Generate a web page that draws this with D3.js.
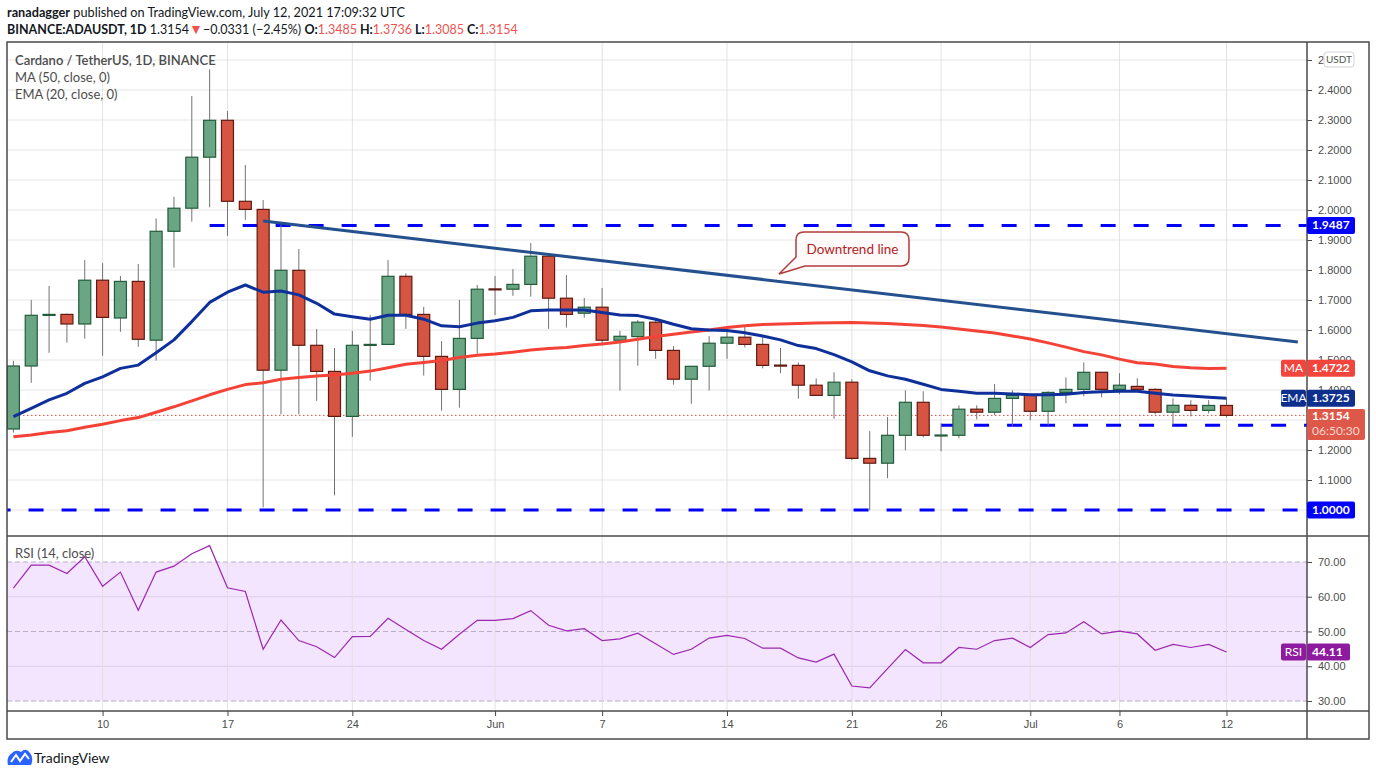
<!DOCTYPE html>
<html>
<head>
<meta charset="utf-8">
<script src="https://cdn.jsdelivr.net/npm/d3@7"></script>
<style>
  body { margin: 0; background: #fff; }
  text { font-family: Lato, "Noto Sans", sans-serif; }
  .axis text { font-family: "Liberation Sans", Arial, sans-serif; font-size: 11px; fill: #4d4d4d; }
</style>
</head>
<body>
<svg id="chart" width="1376" height="776"></svg>
<script>
// daily candles, ADA/USDT, Binance
var firstDay = '2021-05-05';
var lastDay = '2021-07-12';

var open = [1.270, 1.480, 1.649, 1.652, 1.620, 1.766, 1.640, 1.762, 1.566, 1.929,
  2.006, 2.176, 2.299, 2.029, 2.002, 1.466, 1.799, 1.549, 1.462, 1.312,
  1.549, 1.552, 1.779, 1.652, 1.512, 1.402, 1.572, 1.737, 1.736, 1.752,
  1.846, 1.706, 1.656, 1.676, 1.566, 1.578, 1.626, 1.532, 1.436, 1.479,
  1.556, 1.576, 1.552, 1.483, 1.482, 1.416, 1.382, 1.426, 1.172, 1.156,
  1.249, 1.359, 1.248, 1.249, 1.336, 1.326, 1.372, 1.382, 1.329, 1.392,
  1.402, 1.459, 1.402, 1.412, 1.402, 1.326, 1.349, 1.332, 1.3485];
var high = [1.497, 1.700, 1.747, 1.655, 1.833, 1.823, 1.780, 1.820, 1.972, 2.044,
  2.380, 2.469, 2.330, 2.150, 2.033, 1.950, 1.870, 1.603, 1.540, 1.597,
  1.650, 1.833, 1.789, 1.677, 1.563, 1.700, 1.750, 1.780, 1.803, 1.890,
  1.846, 1.783, 1.707, 1.740, 1.597, 1.633, 1.637, 1.546, 1.479, 1.580,
  1.596, 1.612, 1.576, 1.540, 1.492, 1.439, 1.459, 1.436, 1.263, 1.310,
  1.399, 1.396, 1.289, 1.349, 1.349, 1.420, 1.399, 1.383, 1.396, 1.442,
  1.492, 1.459, 1.456, 1.439, 1.406, 1.372, 1.366, 1.366, 1.3736];
var low = [1.258, 1.424, 1.524, 1.558, 1.571, 1.514, 1.594, 1.544, 1.498, 1.808,
  1.961, 2.009, 1.914, 1.967, 1.009, 1.319, 1.319, 1.364, 1.049, 1.244,
  1.431, 1.551, 1.604, 1.448, 1.331, 1.341, 1.521, 1.650, 1.714, 1.711,
  1.604, 1.608, 1.641, 1.549, 1.398, 1.481, 1.504, 1.418, 1.354, 1.398,
  1.504, 1.542, 1.472, 1.456, 1.371, 1.382, 1.304, 1.166, 0.999, 1.106,
  1.199, 1.242, 1.196, 1.239, 1.302, 1.316, 1.279, 1.299, 1.282, 1.356,
  1.379, 1.376, 1.386, 1.402, 1.319, 1.282, 1.312, 1.322, 1.3085];
var close = [1.480, 1.649, 1.652, 1.620, 1.766, 1.642, 1.762, 1.569, 1.929, 2.006,
  2.176, 2.299, 2.029, 2.002, 1.466, 1.799, 1.549, 1.462, 1.312, 1.549,
  1.552, 1.779, 1.652, 1.512, 1.402, 1.572, 1.736, 1.735, 1.752, 1.846,
  1.706, 1.652, 1.676, 1.566, 1.579, 1.626, 1.532, 1.436, 1.479, 1.556,
  1.576, 1.552, 1.482, 1.481, 1.416, 1.382, 1.426, 1.172, 1.156, 1.249,
  1.359, 1.249, 1.250, 1.336, 1.326, 1.372, 1.382, 1.329, 1.392, 1.402,
  1.459, 1.402, 1.416, 1.402, 1.326, 1.349, 1.332, 1.3485, 1.3154];

var ema20 = [1.311, 1.339, 1.367, 1.389, 1.422, 1.444, 1.472, 1.483, 1.524, 1.567,
  1.628, 1.692, 1.726, 1.750, 1.726, 1.730, 1.717, 1.689, 1.653, 1.644,
  1.636, 1.649, 1.649, 1.636, 1.614, 1.611, 1.623, 1.631, 1.642, 1.664,
  1.667, 1.667, 1.667, 1.658, 1.650, 1.648, 1.636, 1.619, 1.604, 1.600,
  1.598, 1.591, 1.580, 1.567, 1.548, 1.538, 1.518, 1.494, 1.464, 1.447,
  1.436, 1.419, 1.402, 1.396, 1.389, 1.389, 1.387, 1.384, 1.384, 1.386,
  1.392, 1.394, 1.396, 1.396, 1.389, 1.383, 1.380, 1.376, 1.3725];
var ma50 = [1.244, 1.250, 1.258, 1.264, 1.276, 1.286, 1.298, 1.308, 1.326, 1.344,
  1.364, 1.384, 1.402, 1.418, 1.424, 1.436, 1.442, 1.447, 1.450, 1.456,
  1.463, 1.474, 1.486, 1.492, 1.498, 1.508, 1.516, 1.520, 1.526, 1.533,
  1.538, 1.542, 1.548, 1.553, 1.560, 1.569, 1.578, 1.586, 1.593, 1.600,
  1.608, 1.614, 1.618, 1.620, 1.622, 1.623, 1.624, 1.625, 1.623, 1.622,
  1.618, 1.615, 1.610, 1.603, 1.597, 1.590, 1.580, 1.570, 1.557, 1.543,
  1.528, 1.517, 1.503, 1.491, 1.487, 1.478, 1.474, 1.472, 1.4722];
var rsi14 = [62.5, 69.1, 69.1, 66.7, 71.5, 63.0, 67.1, 56.1, 67.1, 68.8,
  72.4, 74.7, 62.6, 61.5, 44.9, 53.3, 47.4, 45.6, 42.5, 48.5,
  48.6, 53.8, 50.6, 47.4, 44.9, 49.2, 53.2, 53.2, 53.7, 56.0,
  51.8, 50.2, 50.8, 47.4, 47.9, 49.5, 46.5, 43.4, 44.9, 48.1,
  48.9, 48.0, 45.2, 45.2, 42.4, 41.2, 43.5, 34.3, 33.8, 39.3,
  44.8, 41.0, 41.0, 45.4, 44.9, 47.4, 48.1, 45.4, 49.1, 49.6,
  52.8, 49.3, 50.1, 49.3, 44.6, 46.3, 45.4, 46.3, 44.11];

// drawn levels: price and the day each ray starts
var levelPrices = [1.9487, 1.2825, 1.0000];
var levelStarts = ['2021-05-16', '2021-06-26', '2021-05-04'];
var trendDays = ['2021-05-19', '2021-07-16'];
var trendPrices = [1.963, 1.560];

var priceTicks = [1.0, 1.1, 1.2, 1.3, 1.4, 1.5, 1.6, 1.7, 1.8, 1.9, 2.0, 2.1, 2.2, 2.3, 2.4, 2.5];
var rsiTicks = [30, 40, 50, 60, 70];
var dateTicks = ['2021-05-10', '2021-05-17', '2021-05-24', '2021-06-01', '2021-06-07', '2021-06-14',
  '2021-06-21', '2021-06-26', '2021-07-01', '2021-07-06', '2021-07-12'];
var dateTickLabels = ['10', '17', '24', 'Jun', '7', '14', '21', '26', 'Jul', '6', '12'];

(function (d3) {
  'use strict';
  var svg = d3.select('#chart');
  var parse = d3.timeParse('%Y-%m-%d');
  var days = d3.timeDay.range(parse(firstDay), d3.timeDay.offset(parse(lastDay), 1));
  var bars = days.map(function (d, i) {
    return {date: d, o: open[i], h: high[i], l: low[i], c: close[i]};
  });

  var left = 7, right = 1307, top = 42, mid = 536, bottom = 711, base = 739, outer = 1369;
  var x = d3.scaleTime().domain([parse(firstDay), parse(lastDay)]).range([13.4, 1226.5]);
  var y = d3.scaleLinear().domain([1, 2.4]).range([510, 90]);
  var yR = d3.scaleLinear().domain([30, 70]).range([701, 562]);

  var defs = svg.append('defs');
  defs.append('clipPath').attr('id', 'mainClip').append('rect')
    .attr('x', left).attr('y', top).attr('width', right - left).attr('height', mid - top);
  defs.append('clipPath').attr('id', 'rsiClip').append('rect')
    .attr('x', left).attr('y', mid).attr('width', right - left).attr('height', bottom - mid);

  /** header */
  var h1 = svg.append('text').attr('x', 7).attr('y', 17).attr('font-size', 12.7).attr('fill', '#131722');
  h1.append('tspan').attr('font-weight', 'bold').text('ranadagger');
  h1.append('tspan').text(' published on TradingView.com, July 12, 2021 17:09:32 UTC');

  var n = close.length - 1;
  var change = close[n] - close[n - 1];
  var red = '#ef5350';
  var f4 = d3.format('.4f');
  var h2 = svg.append('text').attr('x', 7).attr('y', 34).attr('font-size', 12.5).attr('fill', '#131722');
  h2.append('tspan').attr('font-weight', 'bold').text('BINANCE:ADAUSDT, 1D');
  h2.append('tspan').text(' ' + f4(close[n]));
  h2.append('tspan').attr('fill', red).attr('font-size', 14).text('\u25BC');
  h2.append('tspan').text('\u2212' + f4(-change) + ' (\u2212' + d3.format('.2f')(-change / close[n - 1] * 100) + '%) ');
  [['O:', open[n]], ['H:', high[n]], ['L:', low[n]], ['C:', close[n]]].forEach(function (p, i) {
    h2.append('tspan').attr('font-weight', 'bold').text((i ? ' ' : '') + p[0]);
    h2.append('tspan').attr('fill', red).text(f4(p[1]));
  });

  /** grid */
  var grid = svg.append('g');
  grid.selectAll('line.h').data(priceTicks).enter().append('line')
    .attr('x1', left).attr('x2', right).attr('y1', y).attr('y2', y)
    .attr('stroke', '#e6e6e6').attr('clip-path', 'url(#mainClip)');

  // rsi band
  grid.append('rect').attr('x', left).attr('width', right - left)
    .attr('y', yR(70)).attr('height', yR(30) - yR(70)).attr('fill', '#f3e5fd');
  grid.selectAll('line.r').data(rsiTicks).enter().append('line')
    .attr('x1', left).attr('x2', right).attr('y1', yR).attr('y2', yR)
    .attr('stroke', function (t) { return t % 20 === 10 ? '#b9aec6' : '#dccde9'; })
    .attr('stroke-dasharray', function (t) { return t % 20 === 10 ? '5,3' : null; });

  grid.selectAll('line.v').data(dateTicks).enter().append('line')
    .attr('x1', function (d) { return x(parse(d)); }).attr('x2', function (d) { return x(parse(d)); })
    .attr('y1', top).attr('y2', bottom).attr('stroke', '#dcdcdc').attr('stroke-opacity', 0.8);

  /** main pane */
  var main = svg.append('g').attr('clip-path', 'url(#mainClip)');

  // current price dotted line
  main.append('line').attr('x1', left).attr('x2', right)
    .attr('y1', y(close[n])).attr('y2', y(close[n]))
    .attr('stroke', '#e0473f').attr('stroke-dasharray', '1.5,2.5');

  main.selectAll('line.level').data(levelPrices).enter().append('line')
    .attr('x1', function (p, i) { return x(parse(levelStarts[i])); }).attr('x2', right)
    .attr('y1', y).attr('y2', y)
    .attr('stroke', '#0000ff').attr('stroke-width', 3).attr('stroke-dasharray', '15,18');

  var candle = main.selectAll('g.bar').data(bars).enter().append('g');
  candle.append('line')
    .attr('x1', function (d) { return x(d.date); }).attr('x2', function (d) { return x(d.date); })
    .attr('y1', function (d) { return y(d.h); }).attr('y2', function (d) { return y(d.l); })
    .attr('stroke', '#737373');
  candle.append('rect')
    .attr('x', function (d) { return x(d.date) - 6; }).attr('width', 12)
    .attr('y', function (d) { return y(Math.max(d.o, d.c)); })
    .attr('height', function (d) { return Math.max(1, Math.abs(y(d.o) - y(d.c))); })
    .attr('fill', function (d) { return d.c >= d.o ? '#6aa584' : '#d65442'; })
    .attr('stroke', function (d) { return d.c >= d.o ? '#235c3a' : '#5e1a10'; })
    .attr('stroke-width', 1.2);

  var line = d3.line()
    .x(function (v, i) { return x(days[i]); })
    .y(function (v) { return y(v); });
  main.append('path').attr('d', line(ma50)).attr('fill', 'none')
    .attr('stroke', '#f44336').attr('stroke-width', 3).attr('stroke-linejoin', 'round');
  main.append('path').attr('d', line(ema20)).attr('fill', 'none')
    .attr('stroke', '#0f2f9b').attr('stroke-width', 3).attr('stroke-linejoin', 'round');

  main.append('line')
    .attr('x1', x(parse(trendDays[0]))).attr('y1', y(trendPrices[0]))
    .attr('x2', x(parse(trendDays[1]))).attr('y2', y(trendPrices[1]))
    .attr('stroke', '#24508e').attr('stroke-width', 3);

  // callout
  main.append('path')
    .attr('d', 'M804,232H901Q909,232 909,240V258Q909,266 901,266H805L779,274L796,257V240Q796,232 804,232Z')
    .attr('fill', '#fffafa').attr('stroke', '#b23b3b').attr('stroke-width', 1.5);
  main.append('text').attr('x', 852.5).attr('y', 254).attr('text-anchor', 'middle')
    .attr('font-size', 13.5).attr('fill', '#b22222').text('Downtrend line');

  // legend
  var legend = [['Cardano / TetherUS, 1D, BINANCE', 65], ['MA (50, close, 0)', 82], ['EMA (20, close, 0)', 99]];
  svg.selectAll('text.legend').data(legend).enter().append('text')
    .attr('x', 15).attr('y', function (d) { return d[1]; })
    .attr('font-size', 13).attr('fill', '#4d4d4d')
    .attr('font-weight', function (d, i) { return i ? 'normal' : '600'; })
    .text(function (d) { return d[0]; });

  /** rsi pane */
  var rsiPane = svg.append('g').attr('clip-path', 'url(#rsiClip)');
  rsiPane.append('path')
    .attr('d', d3.line().x(function (v, i) { return x(days[i]); }).y(function (v) { return yR(v); })(rsi14))
    .attr('fill', 'none').attr('stroke', '#9c27b0').attr('stroke-width', 1.2);
  svg.append('text').attr('x', 15).attr('y', 558).attr('font-size', 13).attr('fill', '#4d4d4d')
    .text('RSI (14, close)');

  /** tags sitting on the price scale (value, label, colour) */
  var tags = levelPrices.map(function (p) { return {cy: y(p), text: f4(p), fill: '#0000ff'}; });
  tags.push({cy: y(ma50[n]), text: f4(ma50[n]), fill: '#f2453d', name: 'MA'});
  tags.push({cy: y(ema20[n]), text: f4(ema20[n]), fill: '#0d2f8e', name: 'EMA'});
  tags.push({cy: yR(rsi14[n]), text: d3.format('.2f')(rsi14[n]), fill: '#8e1b9f', name: 'RSI', width: 43});
  var lastY = y(close[n]);
  var covered = function (ty) {
    if (ty > lastY - 4.5 && ty < lastY + 22.5) { return true; }
    return tags.some(function (t) { return ty > t.cy - 6.5 && ty < t.cy + 6.5; });
  };

  /** axes */
  var axisStyle = function (g) {
    g.select('.domain').remove();
    g.selectAll('line').attr('stroke', '#4a4a4a');
  };
  svg.append('g').attr('class', 'axis').attr('transform', 'translate(' + right + ',0)')
    .call(d3.axisRight(y).tickValues(priceTicks).tickSize(5).tickPadding(6).tickFormat(f4))
    .call(axisStyle)
    .call(function (g) {
      g.selectAll('.tick text').filter(function (t) { return covered(y(t)); }).remove();
    });
  svg.append('g').attr('class', 'axis').attr('transform', 'translate(' + right + ',0)')
    .call(d3.axisRight(yR).tickValues(rsiTicks).tickSize(5).tickPadding(6).tickFormat(d3.format('.2f')))
    .call(axisStyle);
  svg.append('g').attr('class', 'axis').attr('transform', 'translate(0,' + bottom + ')')
    .call(d3.axisBottom(x).tickValues(dateTicks.map(parse)).tickSize(5).tickPadding(4)
      .tickFormat(function (d, i) { return dateTickLabels[i]; }))
    .call(axisStyle);

  /** frame */
  var frame = svg.append('g').attr('stroke', '#4a4a4a').attr('stroke-width', 1.5).attr('fill', 'none');
  frame.append('rect').attr('x', left).attr('y', top).attr('width', outer - left).attr('height', base - top);
  frame.append('line').attr('x1', right).attr('x2', right).attr('y1', top).attr('y2', base);
  frame.append('line').attr('x1', left).attr('x2', outer).attr('y1', mid).attr('y2', mid);
  frame.append('line').attr('x1', left).attr('x2', outer).attr('y1', bottom).attr('y2', bottom);

  // unit box
  svg.append('rect').attr('x', 1324).attr('y', 52).attr('width', 30).attr('height', 15).attr('rx', 3)
    .attr('fill', '#fff').attr('stroke', '#d1d4dc');
  svg.append('text').attr('x', 1339).attr('y', 63).attr('text-anchor', 'middle')
    .attr('font-size', 10).attr('fill', '#555').text('USDT');

  var tagFont = '"Liberation Sans", Arial, sans-serif';
  tags.forEach(function (t) {
    var g = svg.append('g');
    g.append('rect').attr('x', right).attr('y', t.cy - 8.5).attr('width', t.width || 48).attr('height', 17)
      .attr('rx', 2).attr('fill', t.fill);
    g.append('text').attr('x', right + 5).attr('y', t.cy + 4).attr('font-size', 12)
      .attr('font-family', tagFont).attr('font-weight', 'bold').attr('fill', '#fff').text(t.text);
    if (t.name) {
      g.append('rect').attr('x', right - 26).attr('y', t.cy - 8.5).attr('width', 25).attr('height', 17)
        .attr('rx', 2).attr('fill', t.fill);
      g.append('text').attr('x', right - 13.5).attr('y', t.cy + 4).attr('text-anchor', 'middle')
        .attr('font-size', 12).attr('fill', '#fff').text(t.name);
    }
  });

  // last price with countdown
  svg.append('rect').attr('x', right).attr('y', lastY - 6.5).attr('width', 58).attr('height', 31)
    .attr('rx', 2).attr('fill', '#dd5848');
  svg.append('text').attr('x', right + 5).attr('y', lastY + 5).attr('font-size', 12)
    .attr('font-family', tagFont).attr('font-weight', 'bold').attr('fill', '#fff').text(f4(close[n]));
  svg.append('text').attr('x', right + 5).attr('y', lastY + 20).attr('font-size', 12)
    .attr('font-family', tagFont).attr('fill', '#f7d6d1').text('06:50:30');

  /** footer logo */
  svg.append('path').attr('d', 'M8,765Q6,757 12,753Q16,749 21,752Q26,747 30,753Q34,758 31,765Z')
    .attr('fill', '#2962ff');
  svg.append('polyline').attr('points', '11,762 16,755 20,761 25,754 29,759')
    .attr('fill', 'none').attr('stroke', '#fff').attr('stroke-width', 2);
  svg.append('text').attr('x', 34).attr('y', 763).attr('font-size', 14).attr('fill', '#131722')
    .text('TradingView');
})(d3);
</script>
</body>
</html>
